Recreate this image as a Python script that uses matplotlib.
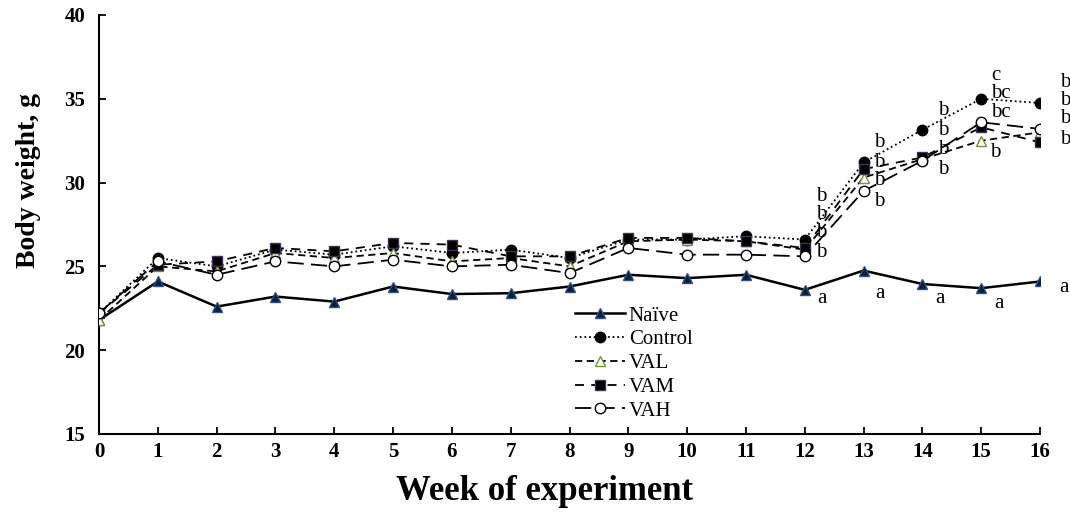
import matplotlib
matplotlib.use("Agg")
import matplotlib.pyplot as plt

weeks = list(range(17))
naive   = [21.8, 24.1, 22.6, 23.2, 22.9, 23.8, 23.35, 23.4, 23.8, 24.5, 24.3, 24.5, 23.6, 24.75, 23.95, 23.7, 24.1]
control = [22.2, 25.5, 25.0, 26.0, 25.7, 26.2, 25.8, 26.0, 25.5, 26.6, 26.6, 26.8, 26.6, 31.2, 33.15, 35.0, 34.75]
val     = [21.8, 25.0, 24.7, 25.8, 25.5, 25.8, 25.3, 25.5, 25.0, 26.5, 26.6, 26.5, 26.0, 30.3, 31.4, 32.5, 33.0]
vam     = [22.2, 25.1, 25.3, 26.1, 25.9, 26.4, 26.3, 25.6, 25.6, 26.7, 26.7, 26.5, 26.1, 30.8, 31.5, 33.3, 32.4]
vah     = [22.2, 25.3, 24.5, 25.3, 25.0, 25.4, 25.0, 25.1, 24.6, 26.1, 25.7, 25.7, 25.6, 29.5, 31.3, 33.6, 33.2]

# significance letters: (week position, y position, text)
ann_x = [12.28, 12.28, 12.28, 12.28, 12.3,
         13.27, 13.27, 13.27, 13.27, 13.27,
         14.35, 14.35, 14.35, 14.35, 14.3,
         15.25, 15.34, 15.34, 15.24, 15.3,
         16.43, 16.43, 16.43, 16.43, 16.4]
ann_y = [29.2, 28.1, 27.0, 25.8, 23.1,
         32.4, 31.2, 30.1, 28.9, 23.4,
         34.3, 33.1, 32.0, 30.8, 23.1,
         36.4, 35.3, 34.2, 31.8, 22.8,
         36.0, 34.9, 33.8, 32.6, 23.75]
ann_t = ["b", "b", "b", "b", "a",
         "b", "b", "b", "b", "a",
         "b", "b", "b", "b", "a",
         "c", "bc", "bc", "b", "a",
         "b", "b", "b", "b", "a"]

plt.rcParams['font.family'] = ['Liberation Serif', 'DejaVu Serif']

fig = plt.figure(figsize=(10.7, 5.12), dpi=100)
ax = fig.add_axes([99/1070, 1 - 434/512, (1040 - 99)/1070, (434 - 15)/512])

lw = 1.3
ms = 7.5
ax.plot(weeks, naive, color='black', lw=1.8, ls='-', marker='^', ms=ms,
        mfc='#0f1c3a', mec='#2e4f80', label='Naïve', zorder=3)
ax.plot(weeks, control, color='black', lw=lw, ls=(0, (1, 1.6)), marker='o', ms=ms,
        mfc='black', mec='black', label='Control', zorder=4)
ax.plot(weeks, val, color='black', lw=lw, ls=(0, (4, 2.5)), marker='^', ms=ms,
        mfc='white', mec='#77933C', label='VAL', zorder=4)
ax.plot(weeks, vam, color='black', lw=lw, ls=(0, (5, 4)), marker='s', ms=ms,
        mfc='black', mec='#403152', label='VAM', zorder=4)
ax.plot(weeks, vah, color='black', lw=lw, ls=(0, (9, 4)), marker='o', ms=ms,
        mfc='white', mec='black', label='VAH', zorder=5)

for x, y, t in zip(ann_x, ann_y, ann_t):
    ax.text(x, y, t, ha='center', va='center', fontsize=15, color='black')

ax.set_xlim(0, 16)
ax.set_ylim(15, 40)
ax.set_xticks(range(0, 17))
ax.set_yticks(range(15, 41, 5))
ax.spines['top'].set_visible(False)
ax.spines['right'].set_visible(False)
ax.spines['left'].set_linewidth(1.5)
ax.spines['bottom'].set_linewidth(1.5)
ax.tick_params(direction='in', length=5, width=1.3)
ax.tick_params(axis='y', pad=10)
ax.tick_params(axis='x', pad=6)
for lab in ax.get_xticklabels() + ax.get_yticklabels():
    lab.set_fontweight('bold')
    lab.set_fontsize(15)

ax.set_xlabel('Week of experiment', fontsize=25, fontweight='bold')
ax.set_ylabel('Body weight, g', fontsize=20, fontweight='bold')
ax.xaxis.set_label_coords(0.473, -0.098)
ax.yaxis.set_label_coords(-0.062, 0.606)

leg = ax.legend(loc='upper left', bbox_to_anchor=(0.49, 0.34), frameon=False,
                fontsize=15, handlelength=2.4, handletextpad=0.2,
                labelspacing=0.2, borderpad=0.2)

fig.savefig('out.png', dpi=100)
